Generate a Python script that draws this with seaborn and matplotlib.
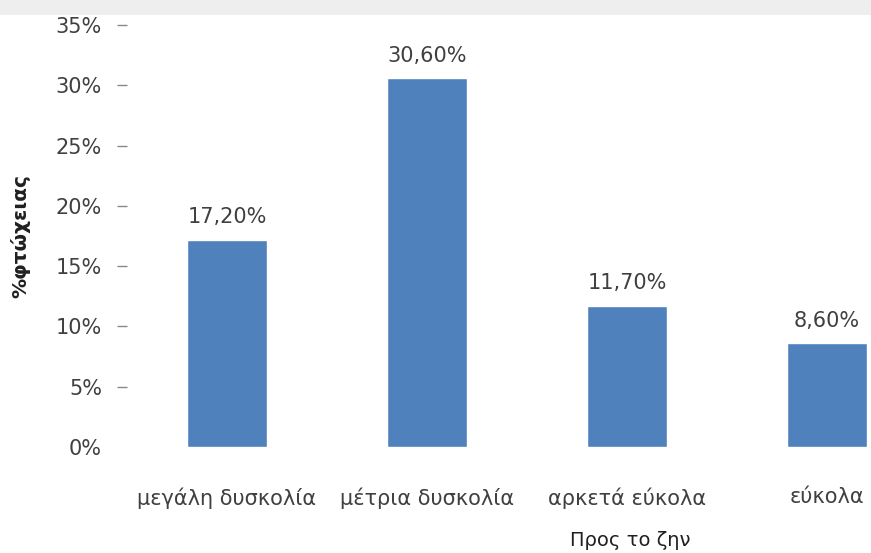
import matplotlib
matplotlib.use("Agg")
import matplotlib.pyplot as plt
import seaborn as sns
from matplotlib.patches import Rectangle

# data
categories = ['μεγάλη δυσκολία', 'μέτρια δυσκολία', 'αρκετά εύκολα', 'εύκολα']
values = [0.172, 0.306, 0.117, 0.086]
value_labels = ['17,20%', '30,60%', '11,70%', '8,60%']
y_ticks = [0, 0.05, 0.10, 0.15, 0.20, 0.25, 0.30, 0.35]
y_tick_labels = ['0%', '5%', '10%', '15%', '20%', '25%', '30%', '35%']

sns.set_theme(style="white")
plt.rcParams['font.family'] = ['DejaVu Sans']
text_col = '#404040'
fs = 15

fig = plt.figure(figsize=(8.71, 5.53), dpi=100)
# light grey strip along the top edge of the scanned image
fig.patches.append(Rectangle((0, 0.972), 1, 0.028, transform=fig.transFigure,
                             facecolor='#eeeeee', edgecolor='none', zorder=0))
ax = fig.add_axes([0.1458, 0.1917, 0.8542, 0.7631])
ax.set_facecolor('none')

sns.barplot(x=categories, y=values, color='#4f81bd', width=0.4,
            saturation=1, ax=ax)

for i, (v, lab) in enumerate(zip(values, value_labels)):
    ax.annotate(lab, (i, v), xytext=(0, 9), textcoords='offset points',
                ha='center', va='bottom', fontsize=fs, color=text_col)

ax.set_ylim(0, 0.35)
ax.set_xlim(-0.5, 3.22)
ax.set_yticks(y_ticks)
ax.set_yticklabels(y_tick_labels)
ax.tick_params(axis='y', left=True, length=7, width=1, color='#888888',
               pad=11, labelsize=fs, labelcolor=text_col)
ax.tick_params(axis='x', bottom=False, pad=23, labelsize=fs, labelcolor=text_col)
ax.yaxis.get_major_ticks()[0].tick1line.set_visible(False)
for s in ax.spines.values():
    s.set_visible(False)

ax.set_ylabel('%φτώχειας', fontsize=14.5, fontweight='bold', color='#202020')
ax.yaxis.set_label_coords(-0.13, 0.5)
ax.set_xlabel('Προς το ζην', fontsize=14, fontweight='medium', color='#202020')
ax.xaxis.set_label_coords(0.676, -0.2)

fig.savefig('out.png', dpi=100)
